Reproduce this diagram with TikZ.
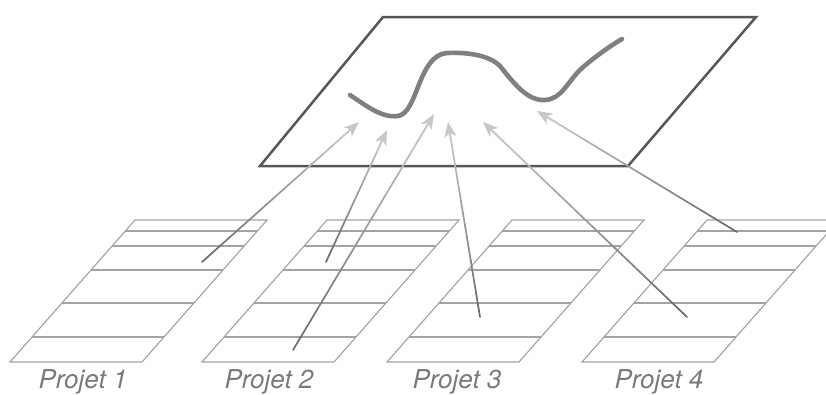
\documentclass[tikz,border=0pt]{standalone}
\usepackage{fontspec}
\setmainfont{TeX Gyre Heros}
\usetikzlibrary{calc,arrows.meta}
\begin{document}
\begin{tikzpicture}[x=1pt,y=-1pt,
  plane/.style={draw=black!66, line width=2.5pt, line join=miter},
  curve/.style={draw=black!50, line width=4.6pt, line cap=round},
  tbl/.style={draw=black!36, line width=1.15pt},
  lbl/.style={font=\fontsize{26}{30}\selectfont\itshape, text=black!52, anchor=base, inner sep=0pt},
  seg/.style={line width=1.7pt, line cap=round},
  tip/.style={-{Stealth[length=15pt,width=12pt,inset=4pt]}, draw=black!22, fill=black!22, line width=1.7pt}]
\useasboundingbox (0,0) rectangle (826,394);
\clip (0,0) rectangle (826,394);
% tables
\foreach \X/\n in {135/1,327/2,512/3,707/4}{
  \draw[tbl] (\X,220) coordinate (T\n) -- ++(132,0) -- ++(-125,142) -- ++(-132,0) -- cycle;
  \foreach \yy in {231,246,270,303,337}{
    \pgfmathsetmacro\xx{\X-125*(\yy-220)/142}
    \draw[tbl] (\xx,\yy) -- ++(132,0);
  }
}
% labels
\node[lbl] (p1) at (83,388) {Projet 1};
\node[lbl] (p2) at (269,388) {Projet 2};
\node[lbl] (p3) at (457,388) {Projet 3};
\node[lbl] (p4) at (659,388) {Projet 4};
% plane
\coordinate (A) at (383,17);
\coordinate (B) at (756,17);
\coordinate (C) at (628,166);
\coordinate (D) at (260,166);
\draw[plane] (A) -- (B) -- (C) -- (D) -- cycle;
% curve
\draw[curve] (350,95) .. controls (368,107) and (382,118) .. (398,116)
  .. controls (418,113) and (418,55) .. (447,53)
  .. controls (470,52) and (490,56) .. (500,66)
  .. controls (515,85) and (528,101) .. (545,100)
  .. controls (562,99) and (567,82) .. (582,68)
  .. controls (596,56) and (610,46) .. (622,39);
% arrows
\coordinate (s1) at (202,262); \coordinate (t1) at (359,122);
\coordinate (s2) at (326,262); \coordinate (t2) at (387,130);
\coordinate (s3) at (293,350); \coordinate (t3) at (434,114);
\coordinate (s4) at (480,317); \coordinate (t4) at (448,122);
\coordinate (s5) at (687,317); \coordinate (t5) at (483,122);
\coordinate (s6) at (737,232); \coordinate (t6) at (537,111);
\foreach \n in {1,...,6}{
  \foreach \i in {0,...,15}{
    \pgfmathsetmacro\a{\i/16*0.95}
    \pgfmathsetmacro\b{(\i+1)/16*0.95}
    \pgfmathtruncatemacro\p{60-38*(\i+0.5)/16}
    \draw[seg, draw=black!\p] ($(s\n)!\a!(t\n)$) -- ($(s\n)!\b!(t\n)$);
  }
  \draw[tip] ($(s\n)!0.9!(t\n)$) -- (t\n);
}
\end{tikzpicture}
\end{document}
